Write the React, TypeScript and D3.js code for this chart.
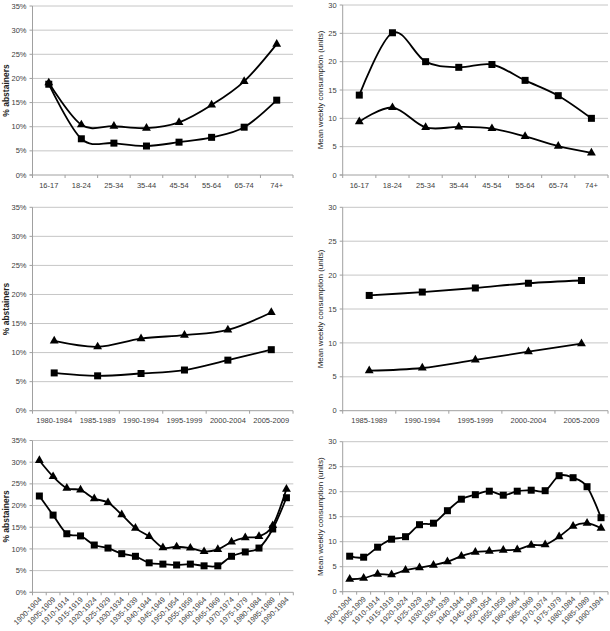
import React from "react";
import * as d3 from "d3";

const ageGroups = ["16-17", "18-24", "25-34", "35-44", "45-54", "55-64", "65-74", "74+"];
const ageAbstainTriangle = [19.1, 10.4, 10.1, 9.7, 10.9, 14.5, 19.4, 27.1];
const ageAbstainSquare = [18.8, 7.5, 6.6, 6.0, 6.8, 7.8, 9.9, 15.5];
const ageConsSquare = [14.1, 25.1, 20.0, 19.0, 19.5, 16.7, 14.0, 10.0];
const ageConsTriangle = [9.4, 11.9, 8.4, 8.5, 8.2, 6.8, 5.1, 3.9];

const periods6 = ["1980-1984", "1985-1989", "1990-1994", "1995-1999", "2000-2004", "2005-2009"];
const periodAbstainTriangle = [12.0, 11.0, 12.4, 13.0, 13.9, 16.9];
const periodAbstainSquare = [6.5, 6.0, 6.4, 7.0, 8.7, 10.5];

const periods5 = ["1985-1989", "1990-1994", "1995-1999", "2000-2004", "2005-2009"];
const periodConsSquare = [17.0, 17.5, 18.1, 18.8, 19.2];
const periodConsTriangle = [5.9, 6.3, 7.5, 8.7, 9.9];

const cohorts = [
  "1900-1904", "1905-1909", "1910-1914", "1915-1919", "1920-1924", "1925-1929", "1930-1934",
  "1935-1939", "1940-1944", "1945-1949", "1950-1954", "1955-1959", "1960-1964", "1965-1969",
  "1970-1974", "1975-1979", "1980-1984", "1985-1989", "1990-1994",
];
const cohortAbstainTriangle = [30.4, 26.7, 24.0, 23.6, 21.6, 20.7, 17.9, 14.8, 12.9, 10.3, 10.5, 10.2, 9.4, 9.9, 11.6, 12.6, 12.9, 15.4, 23.8];
const cohortAbstainSquare = [22.2, 17.8, 13.5, 13.0, 10.9, 10.2, 8.9, 8.3, 6.8, 6.5, 6.3, 6.5, 6.1, 6.1, 8.3, 9.3, 10.2, 14.6, 21.8];
const cohortConsSquare = [7.1, 6.9, 8.9, 10.5, 11.0, 13.4, 13.7, 16.2, 18.5, 19.4, 20.1, 19.3, 20.1, 20.3, 20.2, 23.2, 22.8, 21.0, 14.8];
const cohortConsTriangle = [2.5, 2.7, 3.5, 3.4, 4.3, 4.8, 5.3, 6.0, 7.1, 7.9, 8.1, 8.3, 8.4, 9.3, 9.4, 11.0, 13.1, 13.7, 12.7];

const abstainTicks = [0, 5, 10, 15, 20, 25, 30, 35];
const consTicks = [0, 5, 10, 15, 20, 25, 30];

const FONT = "'Liberation Sans Narrow', 'Liberation Sans', Arial, sans-serif";

type PanelProps = {
  x0: number; x1: number; y0: number; y1: number;
  cats: string[];
  square: number[];
  triangle: number[];
  ticks: number[];
  pct: boolean;
  title: string;
  titleX: number;
  titleBold: boolean;
  rotate: boolean;
};

function Panel(p: PanelProps) {
  const x = d3.scaleBand<string>().domain(p.cats).range([p.x0, p.x1]);
  const y = d3.scaleLinear().domain([0, p.ticks[p.ticks.length - 1]]).range([p.y1, p.y0]);
  const cx = (c: string) => (x(c) as number) + x.bandwidth() / 2;
  const line = d3
    .line<number>()
    .x((_, i) => cx(p.cats[i]))
    .y((v) => y(v))
    .curve(d3.curveCardinal.tension(0));
  const tri = d3.symbol().type(d3.symbolTriangle).size(34)();
  const boundaries = p.cats.map((c) => x(c) as number).concat([p.x1]);
  const midY = (p.y0 + p.y1) / 2;
  return (
    <g>
      {p.ticks.map((t) => (
        <g key={t}>
          {t > 0 && (
            <line x1={p.x0} x2={p.x1} y1={y(t)} y2={y(t)} stroke="#c6c6c6" strokeWidth={1} />
          )}
          <text x={p.x0 - 6} y={y(t)} dy="0.35em" textAnchor="end" fontSize={7.5} fill="#404040" fontFamily={FONT}>
            {p.pct ? `${t}%` : `${t}`}
          </text>
        </g>
      ))}
      <line x1={p.x0} x2={p.x0} y1={p.y0} y2={p.y1} stroke="#a0a0a0" />
      <line x1={p.x0 - 3} x2={p.x1} y1={p.y1} y2={p.y1} stroke="#a0a0a0" />
      {p.ticks.map((t) => (
        <line key={"yt" + t} x1={p.x0 - 3} x2={p.x0} y1={y(t)} y2={y(t)} stroke="#a0a0a0" />
      ))}
      {boundaries.map((b, i) => (
        <line key={"xt" + i} x1={b} x2={b} y1={p.y1} y2={p.y1 + 3} stroke="#a0a0a0" />
      ))}
      {p.cats.map((c) =>
        p.rotate ? (
          <text
            key={c}
            transform={`translate(${cx(c) + 1},${p.y1 + 6}) rotate(-45)`}
            textAnchor="end"
            dy="0.35em"
            fontSize={7.5}
            fill="#404040"
            fontFamily={FONT}
          >
            {c}
          </text>
        ) : (
          <text key={c} x={cx(c)} y={p.y1 + 10} dy="0.35em" textAnchor="middle" fontSize={7.5} fill="#404040" fontFamily={FONT}>
            {c}
          </text>
        )
      )}
      <text
        transform={`translate(${p.titleX},${midY}) rotate(-90)`}
        textAnchor="middle"
        dy="0.35em"
        fontSize={p.titleBold ? 8.5 : 8}
        fontWeight={p.titleBold ? "bold" : "normal"}
        fill="#222"
        fontFamily={FONT}
      >
        {p.title}
      </text>
      <path d={line(p.triangle) || ""} fill="none" stroke="#000" strokeWidth={1.8} />
      <path d={line(p.square) || ""} fill="none" stroke="#000" strokeWidth={1.8} />
      {p.triangle.map((v, i) => (
        <path key={"t" + i} d={tri || ""} transform={`translate(${cx(p.cats[i])},${y(v)})`} fill="#000" />
      ))}
      {p.square.map((v, i) => (
        <rect key={"s" + i} x={cx(p.cats[i]) - 3.5} y={y(v) - 3.5} width={7} height={7} fill="#000" />
      ))}
    </g>
  );
}

export default function App() {
  return (
    <svg
      width={610}
      height={631}
      style={{ position: "absolute", left: 0, top: 0, background: "#fff" }}
    >
      <rect width={610} height={631} fill="#fff" />
      <Panel x0={32.5} x1={293} y0={6} y1={175} cats={ageGroups} square={ageAbstainSquare} triangle={ageAbstainTriangle}
        ticks={abstainTicks} pct title="% abstainers" titleX={6} titleBold rotate={false} />
      <Panel x0={342.7} x1={608} y0={5} y1={175} cats={ageGroups} square={ageConsSquare} triangle={ageConsTriangle}
        ticks={consTicks} pct={false} title="Mean weekly consumption (units)" titleX={320.5} titleBold={false} rotate={false} />
      <Panel x0={32.5} x1={293} y0={207.3} y1={410.7} cats={periods6} square={periodAbstainSquare} triangle={periodAbstainTriangle}
        ticks={abstainTicks} pct title="% abstainers" titleX={6} titleBold rotate={false} />
      <Panel x0={342.7} x1={608} y0={207.3} y1={410.7} cats={periods5} square={periodConsSquare} triangle={periodConsTriangle}
        ticks={consTicks} pct={false} title="Mean weekly consumption (units)" titleX={320.5} titleBold={false} rotate={false} />
      <Panel x0={32.5} x1={293.3} y0={440.5} y1={592.3} cats={cohorts} square={cohortAbstainSquare} triangle={cohortAbstainTriangle}
        ticks={abstainTicks} pct title="% abstainers" titleX={6} titleBold rotate />
      <Panel x0={342.7} x1={608} y0={441.7} y1={591.7} cats={cohorts} square={cohortConsSquare} triangle={cohortConsTriangle}
        ticks={consTicks} pct={false} title="Mean weekly consumption (units)" titleX={320.5} titleBold={false} rotate />
    </svg>
  );
}
